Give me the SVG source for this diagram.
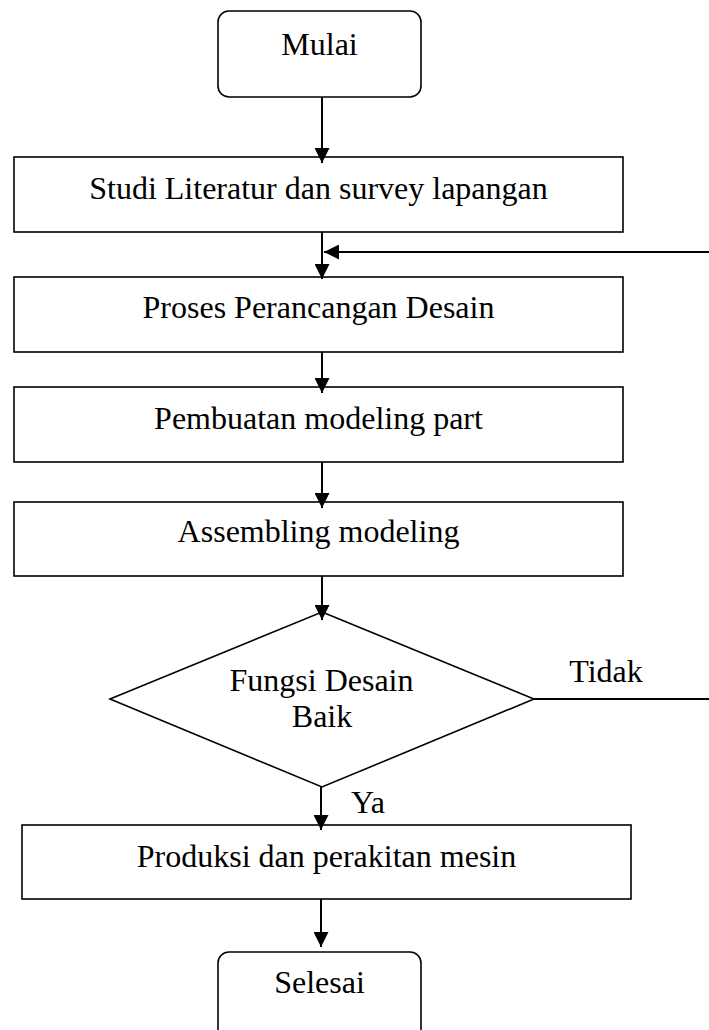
<svg xmlns="http://www.w3.org/2000/svg" width="709" height="1030" viewBox="0 0 709 1030">
<defs>
<style>
.box{fill:#fff;stroke:#000;stroke-width:1.6}
.t{font-family:"Liberation Serif","Times New Roman",serif;font-size:32px;fill:#000;text-anchor:middle}
.c{fill:none;stroke:#000;stroke-width:2}
</style>
<marker id="ah" viewBox="0 0 15 15" refX="15" refY="7.5" markerWidth="15" markerHeight="15" markerUnits="userSpaceOnUse" orient="auto">
<path d="M0,0 L15,7.5 L0,15 z" fill="#000"/>
</marker>
</defs>
<rect width="709" height="1030" fill="#fff"/>
<g id="n-mulai"><rect class="box" x="218" y="11" width="203" height="86" rx="11"/><text class="t" x="319.5" y="55">Mulai</text></g>
<g id="n-studi"><rect class="box" x="14" y="157" width="609" height="75"/><text class="t" x="318.5" y="199">Studi Literatur dan survey lapangan</text></g>
<g id="n-proses"><rect class="box" x="14" y="277" width="609" height="75"/><text class="t" x="318.5" y="318">Proses Perancangan Desain</text></g>
<g id="n-pembuatan"><rect class="box" x="14" y="387" width="609" height="75"/><text class="t" x="318.5" y="429">Pembuatan modeling part</text></g>
<g id="n-assembling"><rect class="box" x="14" y="502" width="609" height="74"/><text class="t" x="318.5" y="542">Assembling modeling</text></g>
<g id="n-fungsi"><polygon class="box" points="322,612 534,699 322,787 110,699"/><text class="t" x="321.5" y="691">Fungsi Desain</text><text class="t" x="322" y="727">Baik</text></g>
<g id="n-produksi"><rect class="box" x="22" y="825" width="609" height="74"/><text class="t" x="326.5" y="867">Produksi dan perakitan mesin</text></g>
<g id="n-selesai"><rect class="box" x="218" y="952" width="203" height="100" rx="11"/><text class="t" x="319.5" y="993">Selesai</text></g>
<g id="connectors">
<line class="c" x1="322" y1="97" x2="322" y2="163" marker-end="url(#ah)"/>
<line class="c" x1="322" y1="232" x2="322" y2="279" marker-end="url(#ah)"/>
<line class="c" x1="709" y1="252" x2="324" y2="252" marker-end="url(#ah)"/>
<line class="c" x1="322" y1="352" x2="322" y2="393" marker-end="url(#ah)"/>
<line class="c" x1="322" y1="462" x2="322" y2="508" marker-end="url(#ah)"/>
<line class="c" x1="322" y1="576" x2="322" y2="620" marker-end="url(#ah)"/>
<line class="c" x1="534" y1="699" x2="709" y2="699"/>
<text class="t" x="606" y="682">Tidak</text>
<line class="c" x1="321" y1="787" x2="321" y2="830" marker-end="url(#ah)"/>
<text class="t" x="368" y="813">Ya</text>
<line class="c" x1="321" y1="899" x2="321" y2="947" marker-end="url(#ah)"/>
</g>
</svg>
